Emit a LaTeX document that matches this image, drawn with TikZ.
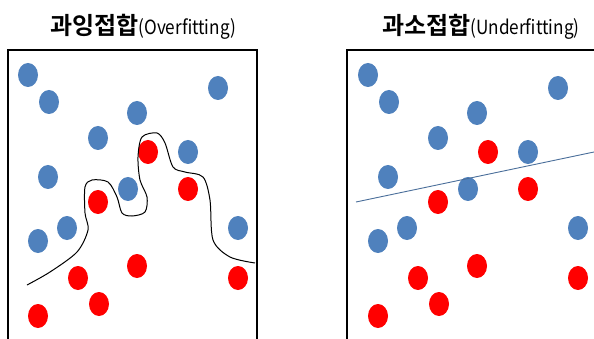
\documentclass[tikz,border=0pt]{standalone}
\usepackage{fontspec}
\usepackage{graphicx}
\newfontfamily\krfont{Noto Sans CJK KR}
\newfontfamily\krbold{Noto Sans CJK KR Bold}
\definecolor{dotblue}{HTML}{4F81BD}
\definecolor{dotred}{HTML}{FF0000}
\definecolor{fitline}{HTML}{4A6E9A}
\tikzset{
  bdot/.style={fill=dotblue},
  rdot/.style={fill=dotred},
  frame/.style={draw=black,line width=2pt},
  ttl/.style={anchor=base west,inner sep=0pt}
}
\newcommand{\ttltext}[2]{{\krbold\fontsize{24pt}{26pt}\selectfont #1}{\krfont\fontsize{19.5pt}{22pt}\selectfont\scalebox{0.88}[1]{#2}}}
\begin{document}
\begin{tikzpicture}[x=1pt,y=-1pt]
\useasboundingbox (0,0) rectangle (594,339);
% titles
\node[ttl] (t1) at (50,35) {\ttltext{과잉접합}{(Overfitting)}};
\node[ttl] (t2) at (382,35) {\ttltext{과소접합}{(Underfitting)}};
% frames
\draw[frame] (8,360) -- (8,50) -- (257,50) -- (257,360);
\draw[frame] (347,360) -- (347,50) -- (610,50);
% dots
\foreach \dx in {0,340}{
  \begin{scope}[xshift=\dx]
  \foreach \p in {(28,75),(49,102),(137,113),(218,88),(98,138),(188,152),(48,177),(128,189),(67,228),(38,241),(238,228)}
    \fill[bdot] \p ellipse[x radius=10,y radius=12];
  \foreach \p in {(148,152),(188,189),(98,202),(137,266),(78,278),(238,278),(99,304),(38,316)}
    \fill[rdot] \p ellipse[x radius=10,y radius=12];
  \end{scope}
}
% overfitting curve
\draw[black,line width=1pt] plot[smooth,tension=0.5] coordinates {
 (27,285) (50,272) (77,252) (88,230) (85,213) (85,187) (92,180) (108,182)
 (117,197) (122,213) (132,216) (145,212) (147,197) (140,180) (138,157)
 (142,137) (157,133) (165,143) (173,167) (185,172) (203,177) (210,200)
 (213,240) (230,257) (255,263)};
% underfitting line
\coordinate (l1) at (356,202);
\coordinate (l2) at (594,152);
\draw[fitline,line width=0.9pt] (l1) -- (l2);
\end{tikzpicture}
\end{document}
